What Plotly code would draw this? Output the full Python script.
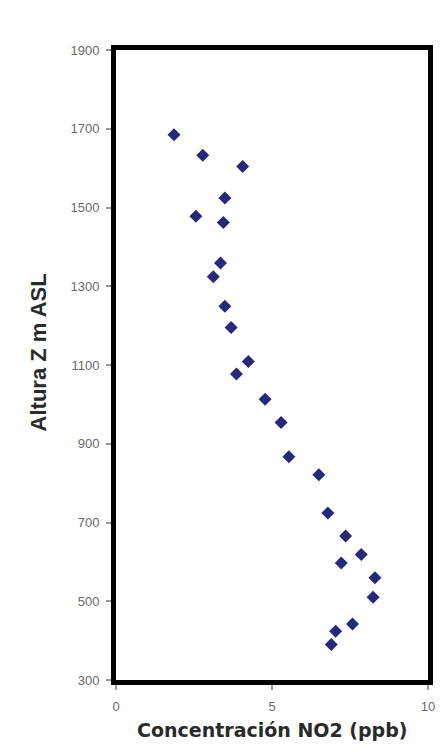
import plotly.graph_objects as go

no2_ppb = [1.86, 2.78, 4.06, 3.49, 2.56, 3.44, 3.35, 3.12, 3.49, 3.69, 4.24, 3.86,
           4.78, 5.29, 5.54, 6.50, 6.79, 7.36, 7.86, 7.22, 8.30, 8.24, 7.58, 7.04, 6.90]
altura_m = [1685, 1633, 1604, 1524, 1478, 1462, 1359, 1324, 1249, 1195, 1109, 1077,
            1013, 954, 867, 821, 724, 666, 619, 597, 560, 510, 442, 424, 390]
x_ticks = [0, 5, 10]
y_ticks = [300, 500, 700, 900, 1100, 1300, 1500, 1700, 1900]

fig = go.Figure()
fig.add_trace(go.Scatter(
    x=no2_ppb, y=altura_m, mode="markers",
    marker=dict(symbol="diamond", size=10, color="#28287A"),
    showlegend=False,
))

tickfont = dict(family="Liberation Sans, Arial, sans-serif", size=13, color="#6a6a6a")
title_font = dict(family="DejaVu Sans, Liberation Sans, sans-serif", size=19, color="#2a2a2a")
fig.update_layout(
    width=438, height=738,
    margin=dict(l=108, r=11, t=42, b=66),
    paper_bgcolor="white", plot_bgcolor="white",
    xaxis=dict(
        range=[0, 10], tickvals=x_ticks, showgrid=False, zeroline=False,
        showline=True, linecolor="black", linewidth=5, mirror=True,
        ticks="outside", ticklen=5, tickwidth=1.5, tickcolor="#999999",
        tickfont=tickfont, ticklabelstandoff=5,
    ),
    yaxis=dict(
        range=[300, 1900], tickvals=y_ticks, showgrid=False, zeroline=False,
        showline=True, linecolor="black", linewidth=5, mirror=True,
        ticks="outside", ticklen=5, tickwidth=1.5, tickcolor="#999999",
        tickfont=tickfont, ticklabelstandoff=4,
    ),
    annotations=[
        dict(text="<b>Concentración NO2 (ppb)</b>", xref="paper", yref="paper",
             x=0.5, y=-0.080, showarrow=False, xanchor="center", yanchor="middle",
             font=title_font),
        dict(text="<b>Altura Z m ASL</b>", xref="paper", yref="paper",
             x=-0.25, y=0.52, textangle=-90, showarrow=False,
             xanchor="center", yanchor="middle",
             font=dict(family="Liberation Sans, Arial, sans-serif", size=22, color="#2a2a2a")),
    ],
)

fig.write_html("out.html")
